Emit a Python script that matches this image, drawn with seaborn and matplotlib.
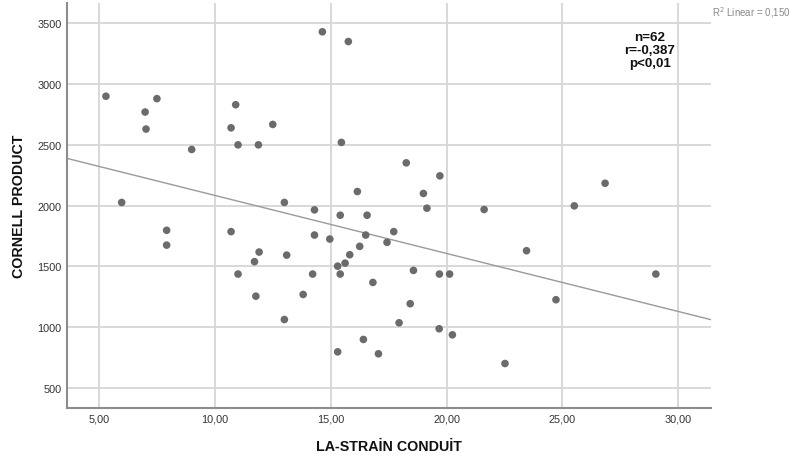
import matplotlib
matplotlib.use("Agg")
import matplotlib.pyplot as plt
import seaborn as sns
import pandas as pd

la_strain = [5.30, 14.64, 15.76, 6.99, 7.50, 7.03, 10.90, 10.70, 12.50, 11.00,
             11.88, 9.00, 15.46, 16.15, 5.98, 13.00, 14.30, 15.41, 16.57,
             18.26, 19.71, 19.00, 19.15, 21.62, 25.51, 26.84,
             7.92, 7.92, 10.70, 11.91, 11.71, 11.00, 11.77, 13.10, 13.00, 14.30,
             14.96, 14.22, 13.81, 15.30, 15.41, 15.62, 15.82, 16.25, 16.51, 16.82,
             15.30, 16.41, 17.06, 17.43, 17.72, 17.95,
             18.57, 19.69, 20.13, 18.43, 19.68, 20.25, 22.52, 23.45, 24.72, 29.03]
cornell = [2900, 3430, 3350, 2770, 2880, 2630, 2830, 2640, 2668, 2500,
           2500, 2462, 2520, 2116, 2026, 2026, 1965, 1921, 1921,
           2352, 2245, 2100, 1979, 1968, 1998, 2184,
           1797, 1675, 1786, 1618, 1539, 1437, 1255, 1593, 1063, 1758,
           1725, 1437, 1269, 1502, 1437, 1527, 1596, 1665, 1758, 1368,
           797, 899, 781, 1698, 1786, 1036,
           1467, 1437, 1437, 1193, 987, 937, 701, 1629, 1226, 1437]
x_ticks = [5, 10, 15, 20, 25, 30]
x_tick_labels = ["5,00", "10,00", "15,00", "20,00", "25,00", "30,00"]
y_ticks = [500, 1000, 1500, 2000, 2500, 3000, 3500]
y_tick_labels = ["500", "1000", "1500", "2000", "2500", "3000", "3500"]
stats_text = "n=62\nr=-0,387\np<0,01"
r2_text = "R$^2$ Linear = 0,150"

df = pd.DataFrame({"LA-STRAİN CONDUİT": la_strain, "CORNELL PRODUCT": cornell})

sns.set_style("white")
plt.rcParams['font.family'] = ['Liberation Sans', 'DejaVu Sans']

fig = plt.figure(figsize=(7.94, 4.64), dpi=100)
ax = fig.add_axes([67/794, 1 - 409/464, (711 - 67)/794, (409 - 4)/464])
ax.set_xlim(3.62, 31.41)
ax.set_ylim(335, 3667)

sns.regplot(data=df, x="LA-STRAİN CONDUİT", y="CORNELL PRODUCT", ax=ax,
            ci=None, truncate=False,
            scatter_kws=dict(s=30, color="#6b6b6b", edgecolor="none", alpha=1, zorder=3),
            line_kws=dict(color="#9a9a9a", lw=1.0, zorder=2))

ax.set_xlim(3.62, 31.41)
ax.set_ylim(335, 3667)
ax.set_xticks(x_ticks)
ax.set_xticklabels(x_tick_labels)
ax.set_yticks(y_ticks)
ax.set_yticklabels(y_tick_labels)
ax.tick_params(axis="both", length=0, labelsize=7.8, labelcolor="#333333", pad=4)
ax.grid(True, color="#d6d6d6", lw=1.3, zorder=0)
ax.set_axisbelow(True)
for s in ["top", "right"]:
    ax.spines[s].set_visible(False)
for s in ["left", "bottom"]:
    ax.spines[s].set_color("#8c8c8c")
    ax.spines[s].set_linewidth(1.5)

ax.set_xlabel("LA-STRAİN CONDUİT", fontsize=10.3, fontweight="bold", color="#111111", labelpad=11)
ax.set_ylabel("CORNELL PRODUCT", fontsize=10.3, fontweight="bold", color="#111111", labelpad=8)

ax.text(650/794, 1 - 51/464, stats_text, transform=fig.transFigure, ha="center", va="center",
        fontsize=9.6, fontweight="bold", linespacing=1.12, color="#111111")
fig.text(751/794, 1 - 13/464, r2_text, ha="center", va="center", fontsize=7, color="#888888")

fig.savefig("out.png", dpi=100)
